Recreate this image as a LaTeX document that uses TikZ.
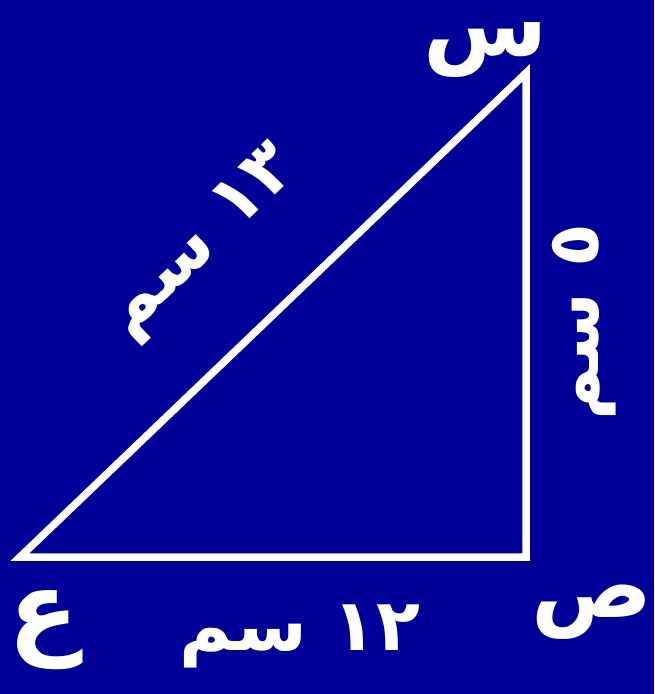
\documentclass[tikz,border=0pt]{standalone}
\usepackage{fontspec}
\newfontfamily\arabicfont[Script=Arabic]{DejaVu Sans}
\TeXXeTstate=1
\definecolor{bg}{RGB}{0,0,153}
\begin{document}
\begin{tikzpicture}[x=1pt,y=-1pt,
  lbl/.style={text=white,inner sep=0pt,font=\arabicfont\bfseries\fontsize{90}{90}\selectfont},
  side/.style={text=white,inner sep=0pt,font=\arabicfont\bfseries\fontsize{72}{72}\selectfont}]
\fill[bg] (0,0) rectangle (654,694);
\useasboundingbox (0,0) rectangle (654,694);
\coordinate (E) at (20,557);
\coordinate (S) at (526,73);
\coordinate (P) at (526,557);
\draw[white,line width=7.5pt] (E) -- (S) -- (P) -- cycle;
\node[lbl,text height=0.6em,text depth=0.24em,anchor=base] (ls) at (486,55) {\beginR س\endR};
\node[lbl] (lp) at (592,612) {\beginR ص\endR};
\node[lbl,scale=1.15] (le) at (44,630) {\beginR ع\endR};
\node[side] (lb) at (300,636) {\beginR\beginL ١٢\endL{} سم\endR};
\node[side,rotate=43.7] (lh) at (204,244) {\beginR\beginL ١٣\endL{} سم\endR};
\node[side,rotate=90] (lr) at (584,322) {\beginR\beginL ٥\endL{} سم\endR};
\end{tikzpicture}
\end{document}
